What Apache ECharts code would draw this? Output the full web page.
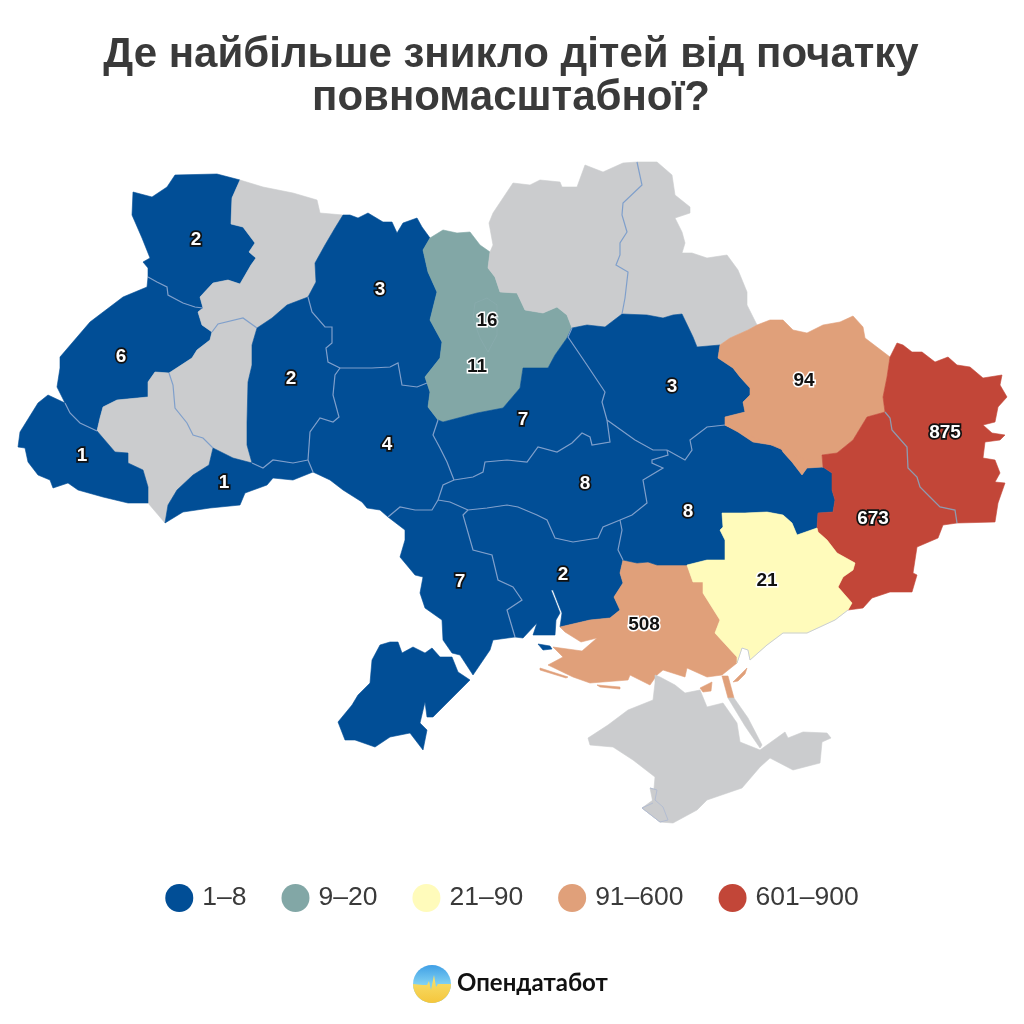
<!DOCTYPE html>
<html>
<head>
<meta charset="utf-8">
<style>html,body{margin:0;padding:0;background:#fff}#chart{width:1024px;height:1024px}</style>
<script src="https://cdn.jsdelivr.net/npm/echarts@6/dist/echarts.min.js"></script>
</head>
<body>
<div id="chart"></div>
<script>
// values per oblast, grey oblasts have no value
var regionNames = ['Волинська','Львівська','Закарпатська','Чернівецька','Хмельницька','Житомирська','Вінницька','Київська','м. Київ','Черкаська','Кіровоградська','Полтавська','Дніпропетровська','Одеська','Миколаївська','Херсонська','Запорізька','Харківська','Донецька','Луганська'];
var regionValues = [2,6,1,1,2,3,4,11,16,7,8,3,8,7,2,508,21,94,673,875];
var greyRegions = ['Рівненська','Тернопільська','Івано-Франківська','Чернігівська','Сумська','Крим','Севастополь'];
var legendLabels = ['1–8','9–20','21–90','91–600','601–900'];
var legendMin = [1,9,21,91,601];
var legendMax = [8,20,90,600,900];
var legendColors = ['#014e96','#82a7a6','#fffbbb','#e0a07a','#c24638'];
var grey = '#cbccce';

// where each number sits on the map
var labelSpots = {
  'Волинська':[196,240],'Львівська':[121,357],'Закарпатська':[82,456],'Чернівецька':[224,483],'Хмельницька':[291,379],
  'Житомирська':[380,290],'Вінницька':[387,445],'Київська':[477,367],'м. Київ':[487,321],'Черкаська':[523,420],
  'Кіровоградська':[585,484],'Полтавська':[672,387],'Дніпропетровська':[688,512],'Одеська':[460,582],'Миколаївська':[563,575],
  'Херсонська':[644,625],'Запорізька':[767,581],'Харківська':[804,381],'Донецька':[873,519],'Луганська':[945,433]
};

// borders, shared between neighbours
var b = {
  volynRivne:[[240,180],[232,198],[231,224],[243,227],[255,243],[249,252],[256,258],[251,265],[240,284],[228,280],[213,283],[200,297],[203,308]],
  volynLviv:[[203,308],[195,307],[183,303],[168,295],[167,287],[157,282],[148,277]],
  volynOut:[[148,277],[148,268],[143,262],[150,258],[142,238],[132,215],[133,192],[152,197],[167,187],[175,175],[217,174],[240,180]],
  lvivOut:[[148,277],[147,287],[123,297],[90,322],[60,357],[60,368],[57,387],[65,403]],
  lvivZak:[[65,403],[70,413],[80,423],[97,431]],
  lvivIf:[[97,431],[100,418],[103,407],[117,400],[148,397],[148,382],[155,372],[169,373]],
  lvivTern:[[169,373],[192,358],[197,350],[210,340],[212,332]],
  lvivRivne:[[212,332],[202,325],[198,312],[203,308]],
  rivneOut:[[240,180],[263,187],[293,193],[317,200],[320,213],[343,215]],
  rivneZhyt:[[343,215],[335,228],[325,245],[315,263],[316,282],[308,297]],
  rivneKhm:[[308,297],[287,305],[272,318],[257,328]],
  rivneTern:[[257,328],[243,318],[218,324],[212,332]],
  ternIf:[[169,373],[173,385],[175,408],[187,423],[193,435],[203,438],[213,448]],
  ternChern:[[213,448],[233,458],[252,463]],
  ternKhm:[[252,463],[247,445],[247,422],[248,382],[252,365],[252,345],[257,328]],
  ifChern:[[213,448],[209,465],[193,475],[177,490],[168,505],[165,523]],
  ifOut:[[165,523],[148,503]],
  ifZak:[[148,503],[148,487],[143,470],[128,463],[128,453],[115,452],[97,431]],
  zakOut:[[65,403],[48,395],[38,403],[20,432],[18,447],[25,448],[28,462],[38,475],[50,480],[53,488],[68,483],[78,490],[103,497],[128,503],[148,503]],
  chernKhm:[[252,463],[263,468],[273,460],[293,463],[308,460]],
  chernVin:[[308,460],[313,472]],
  chernOut:[[313,472],[293,480],[273,478],[267,485],[245,493],[240,505],[210,508],[183,512],[165,523]],
  khmZhyt:[[308,297],[312,312],[325,327],[332,327],[332,343],[326,348],[328,362],[340,368]],
  khmVin:[[340,368],[335,375],[333,395],[339,417],[333,422],[320,418],[310,432],[308,460]],
  zhytOut:[[343,215],[350,215],[358,218],[368,213],[383,222],[392,222],[397,233],[403,223],[417,218],[422,227],[430,238]],
  zhytKyiv:[[430,238],[423,250],[428,272],[437,292],[430,320],[442,342],[440,358],[425,377],[427,383]],
  zhytVin:[[427,383],[417,387],[402,385],[398,363],[390,367],[372,368],[340,368]],
  vinKyiv:[[427,383],[430,392],[428,407],[438,420]],
  vinCher:[[438,420],[433,435],[440,448],[447,462],[454,480]],
  vinKir:[[454,480],[443,485],[438,500]],
  vinOd:[[438,500],[432,510],[415,510],[400,507],[388,517]],
  vinOut:[[388,517],[380,510],[367,508],[362,502],[343,490],[330,480],[313,472]],
  kyivOut:[[430,238],[443,230],[457,233],[470,232],[480,245],[490,252]],
  kyivChern:[[490,252],[488,268],[495,277],[500,292],[517,293],[525,310],[543,313],[557,307],[567,315],[572,328]],
  kyivCher:[[572,328],[567,338],[555,355],[548,368],[523,368],[520,388],[503,408],[477,413],[443,422],[438,420]],
  chernihivOut:[[490,252],[493,245],[489,223],[493,213],[513,183],[530,185],[540,180],[560,182],[562,187],[577,187],[585,165],[603,172],[623,163],[637,162]],
  chernSumy:[[637,162],[642,185],[623,203],[622,215],[627,232],[620,243],[620,255],[616,265],[628,272],[625,298],[622,314]],
  chernPol:[[622,314],[605,327],[587,325],[572,328]],
  sumyOut:[[637,162],[643,162],[657,162],[672,175],[675,195],[690,207],[690,213],[675,218],[682,232],[685,243],[682,253],[692,253],[707,258],[727,255],[738,270],[747,292],[747,305],[757,325]],
  sumyKh:[[757,325],[748,330],[730,338],[720,345]],
  sumyPol:[[720,345],[697,347],[693,337],[682,314],[673,315],[663,318],[647,315],[622,314]],
  polKh:[[720,345],[718,358],[733,368],[740,377],[750,388],[750,395],[743,402],[745,412],[725,417],[725,425]],
  polDn:[[725,425],[707,427],[690,440],[692,450],[685,460],[667,450]],
  polKir:[[667,450],[653,450],[635,440],[607,420]],
  cherPol:[[572,328],[568,337],[587,365],[605,392],[602,402],[607,420]],
  cherKir:[[607,420],[610,442],[592,445],[590,437],[582,433],[572,443],[557,452],[538,447],[527,462],[507,460],[485,462],[483,472],[473,477],[454,480]],
  kirDn:[[667,450],[668,455],[652,460],[652,463],[663,468],[643,480],[647,503],[632,515],[620,520]],
  kirMyk:[[620,520],[603,527],[598,538],[573,542],[555,538],[547,520],[537,515],[518,507],[507,505],[487,508],[468,510]],
  kirOd:[[468,510],[450,502],[438,500]],
  odMyk:[[468,510],[463,515],[473,550],[492,555],[498,580],[513,587],[522,600],[507,610],[515,637]],
  odCoast:[[515,637],[493,640],[490,650],[473,675],[460,655],[452,653],[443,640],[442,620],[425,608],[420,593],[423,577],[415,575],[400,557],[405,540],[405,530],[388,517]],
  mykDn:[[620,520],[622,530],[618,550],[623,560]],
  mykKh:[[623,560],[620,573],[623,583],[614,597],[620,610],[610,618],[590,620],[560,627]],
  mykCoast:[[560,627],[562,613],[558,603],[553,590],[551,590],[555,600],[560,613],[556,620],[555,635],[533,635],[537,623],[523,638],[515,637]],
  khDn:[[623,560],[637,563],[648,562],[657,565],[687,565]],
  khZap:[[687,565],[693,582],[703,582],[703,593],[720,620],[715,633],[737,657],[737,663]],
  khOut:[[737,663],[722,675],[707,677],[687,668],[685,677],[663,670],[657,675],[650,685],[630,675],[628,680],[590,683],[573,677],[548,665],[563,657],[553,647],[582,651],[597,638],[581,642],[565,632],[560,627]],
  dnZap:[[817,528],[797,535],[792,523],[783,515],[767,512],[745,513],[722,513],[723,527],[720,530],[725,540],[725,560],[707,560],[687,565]],
  dnDon:[[817,528],[818,513],[833,512],[835,500],[832,490],[832,473],[823,467]],
  dnKh:[[823,467],[807,468],[802,475],[792,462],[783,452],[778,442],[772,445],[753,442],[738,432],[725,425]],
  khNorth:[[757,325],[770,320],[783,320],[793,330],[807,333],[823,325],[840,322],[853,316],[863,327],[865,338],[890,357]],
  khLuh:[[890,357],[887,377],[883,397],[885,412]],
  khDon:[[885,412],[867,417],[853,440],[837,453],[822,455],[823,467]],
  luhOut:[[890,357],[897,343],[903,345],[912,352],[922,352],[935,362],[948,357],[957,365],[970,367],[983,378],[1002,375],[1000,385],[1007,397],[998,407],[995,422],[983,425],[992,433],[1005,435],[1000,440],[985,442],[983,458],[995,460],[1000,473],[995,482],[1005,483],[998,503],[995,522],[957,523]],
  luhDon:[[957,523],[955,510],[940,507],[930,497],[920,487],[917,477],[908,468],[907,447],[892,430],[890,418],[885,412]],
  donOut:[[957,523],[943,525],[938,538],[917,547],[913,573],[917,575],[912,592],[890,592],[872,598],[863,608],[848,610]],
  donZap:[[848,610],[852,603],[838,587],[843,577],[853,570],[855,563],[837,553],[827,540],[818,532],[817,528]],
  zapCoast:[[737,663],[742,648],[748,650],[750,660],[767,645],[783,633],[807,633],[835,620],[848,610]]
};
var kyivCity = [[475,303],[487,298],[497,305],[497,335],[488,352],[480,338],[473,318]];
var sevastopol = [[650,788],[657,790],[655,800],[663,807],[668,820],[660,822],[642,808],[653,803]];
var crimea = [[655,675],[660,677],[675,685],[685,693],[700,690],[707,707],[723,703],[737,723],[740,742],[760,750],[785,732],[788,738],[803,732],[827,733],[831,738],[822,742],[820,763],[793,770],[770,758],[760,767],[742,788],[707,800],[697,810],[673,823],[660,822],[642,808],[653,800],[655,777],[633,760],[613,747],[590,745],[588,738],[608,725],[628,710],[653,700],[655,683]];
var arabat = [[728,698],[734,698],[748,718],[762,745],[760,748],[745,726]];
var bessarabia = [[390,642],[398,642],[402,653],[413,647],[425,653],[432,648],[440,657],[452,657],[458,672],[470,680],[453,697],[433,717],[427,717],[425,702],[420,723],[427,730],[423,750],[410,733],[390,737],[375,747],[355,740],[345,740],[338,722],[352,705],[358,695],[370,683],[372,660],[380,645]];
var kinburn = [[538,644],[550,646],[552,649],[543,650]];
var khIslands = [
  [[540,668],[568,677],[566,678],[540,670]],
  [[597,685],[620,687],[620,689],[600,687]],
  [[700,688],[712,682],[711,691],[703,692]],
  [[733,682],[743,672],[747,668],[745,674],[738,681]],
  [[722,676],[728,676],[734,698],[728,698]]
];

function rev(a){ return a.slice().reverse(); }
function ring(){
  var out = [];
  for (var i = 0; i < arguments.length; i++) out = out.concat(arguments[i]);
  return out;
}
var rings = {
  'Волинська':[ring(b.volynRivne,b.volynLviv,b.volynOut)],
  'Львівська':[ring(b.volynLviv,b.lvivOut,b.lvivZak,b.lvivIf,b.lvivTern,b.lvivRivne)],
  'Рівненська':[ring(b.rivneOut,b.rivneZhyt,b.rivneKhm,b.rivneTern,b.lvivRivne,rev(b.volynRivne))],
  'Тернопільська':[ring(rev(b.lvivTern),b.ternIf,b.ternChern,b.ternKhm,b.rivneTern)],
  'Івано-Франківська':[ring(b.lvivIf,b.ternIf,b.ifChern,b.ifOut,b.ifZak)],
  'Закарпатська':[ring(b.zakOut,b.ifZak,rev(b.lvivZak))],
  'Чернівецька':[ring(b.ternChern,b.chernKhm,b.chernVin,b.chernOut,rev(b.ifChern))],
  'Хмельницька':[ring(rev(b.rivneKhm),b.khmZhyt,b.khmVin,rev(b.chernKhm),b.ternKhm)],
  'Житомирська':[ring(rev(b.rivneZhyt),b.zhytOut,b.zhytKyiv,b.zhytVin,rev(b.khmZhyt))],
  'Вінницька':[ring(rev(b.zhytVin),b.vinKyiv,b.vinCher,b.vinKir,b.vinOd,b.vinOut,rev(b.chernVin),rev(b.khmVin))],
  'Київська':[ring(b.kyivOut,b.kyivChern,b.kyivCher,rev(b.vinKyiv),rev(b.zhytKyiv))],
  'Чернігівська':[ring(b.chernihivOut,b.chernSumy,b.chernPol,rev(b.kyivChern))],
  'Сумська':[ring(b.sumyOut,b.sumyKh,b.sumyPol,rev(b.chernSumy))],
  'Полтавська':[ring(rev(b.chernPol),rev(b.sumyPol),b.polKh,b.polDn,b.polKir,rev(b.cherPol))],
  'Черкаська':[ring(rev(b.kyivCher),b.cherPol,b.cherKir,rev(b.vinCher))],
  'Кіровоградська':[ring(rev(b.cherKir),rev(b.polKir),b.kirDn,b.kirMyk,b.kirOd,rev(b.vinKir))],
  'Одеська':[ring(rev(b.vinOd),rev(b.kirOd),b.odMyk,b.odCoast),bessarabia],
  'Миколаївська':[ring(rev(b.kirMyk),b.mykDn,b.mykKh,b.mykCoast,rev(b.odMyk)),kinburn],
  'Херсонська':[ring(rev(b.mykKh),b.khDn,b.khZap,b.khOut)].concat(khIslands),
  'Дніпропетровська':[ring(b.polDn,b.kirDn,b.mykDn,b.khDn,rev(b.dnZap),b.dnDon,b.dnKh)],
  'Харківська':[ring(rev(b.sumyKh),b.khNorth,b.khLuh,b.khDon,rev(b.dnKh),rev(b.polKh))],
  'Луганська':[ring(b.luhOut,b.luhDon,rev(b.khLuh))],
  'Донецька':[ring(rev(b.luhDon),b.donOut,b.donZap,b.dnDon,rev(b.khDon))],
  'Запорізька':[ring(b.dnZap,b.khZap,b.zapCoast,b.donZap)],
  'Крим':[crimea,arabat],
  'м. Київ':[kyivCity],
  'Севастополь':[sevastopol]
};

function toGeo(p){ return [p[0], -p[1]]; }
var features = Object.keys(rings).map(function(name){
  var cp = labelSpots[name] ? toGeo(labelSpots[name]) : undefined;
  return {
    type:'Feature',
    properties:{name:name, cp:cp},
    geometry:{type:'MultiPolygon', coordinates:rings[name].map(function(r){ return [r.map(toGeo)]; })}
  };
});
echarts.registerMap('ukraine', {type:'FeatureCollection', features:features});

// only borders between regions of one colour are visible in the original
var lineEdges = ['volynLviv','lvivZak','cherKir','vinCher','vinKir','vinOd','zhytVin','khmVin','khmZhyt','chernKhm','chernVin','cherPol','polKir','polDn','kirDn','kirMyk','kirOd','odMyk','mykDn','rivneTern','ternIf','chernSumy'];
var edgeData = lineEdges.map(function(k){
  return {coords:b[k].map(toGeo), lineStyle:{color:'#7f9fcb', width:1.2, opacity:1}};
});
edgeData.push({coords:b.luhDon.map(toGeo), lineStyle:{color:'#8e9bb0', width:1.3, opacity:1}});
edgeData.push({coords:b.zapCoast.map(toGeo), lineStyle:{color:'#c9ced6', width:1, opacity:1}});
edgeData.push({coords:kyivCity.concat([kyivCity[0]]).map(toGeo), lineStyle:{color:'#8dadb0', width:0.6, opacity:1}});
edgeData.push({coords:sevastopol.map(toGeo), lineStyle:{color:'#b3bdd2', width:1, opacity:1}});

function colorOf(v){
  for (var i = 0; i < legendMin.length; i++) if (v >= legendMin[i] && v <= legendMax[i]) return i;
  return 0;
}
var mapData = regionNames.map(function(name, i){
  var piece = colorOf(regionValues[i]);
  var light = piece >= 1 && piece <= 3;
  return {
    name:name,
    value:regionValues[i],
    itemStyle:{borderColor:legendColors[piece], borderWidth:0.6},
    label:{
      show:true,
      formatter:'{c}',
      color:light ? '#111' : '#fff',
      textBorderColor:light ? '#fff' : '#111',
      textBorderWidth:light ? 3 : 3.5
    }
  };
}).concat(greyRegions.map(function(name){
  return {name:name, value:null, label:{show:false}};
}));

var box = {left:18, top:162, width:989, height:661};

// logo: lower half of the circle with a pulse along its top
var logoX = 432, logoY = 984, logoR = 19;
var logoLow = [[logoX-logoR,logoY],[logoX-9,logoY+1],[logoX-5,logoY+1],[logoX-3,logoY-3],[logoX-1,logoY+6],[logoX+2,logoY-9],[logoX+4,logoY+3],[logoX+6,logoY],[logoX+logoR,logoY]];
for (var d = 10; d < 180; d += 10) {
  logoLow.push([logoX+logoR*Math.cos(d*Math.PI/180), logoY+logoR*Math.sin(d*Math.PI/180)]);
}

var chart = echarts.init(document.getElementById('chart'));
chart.setOption({
  backgroundColor:'#fff',
  animation:false,
  title:{
    text:'Де найбільше зникло дітей від початку\nповномасштабної?',
    left:506,
    top:29,
    textAlign:'center',
    textStyle:{fontFamily:'Liberation Sans', fontSize:42, fontWeight:'bold', color:'#3a3a3a', lineHeight:43}
  },
  visualMap:{
    type:'piecewise',
    orient:'horizontal',
    left:'center',
    top:884,
    seriesIndex:0,
    selectedMode:false,
    hoverLink:false,
    itemSymbol:'circle',
    itemWidth:28,
    itemHeight:28,
    itemGap:35,
    textGap:9,
    padding:0,
    textStyle:{fontFamily:'Liberation Sans', fontSize:26.5, color:'#3a3a3a'},
    pieces:legendLabels.map(function(l, i){
      return {min:legendMin[i], max:legendMax[i], label:l, color:legendColors[i]};
    })
  },
  geo:{
    map:'ukraine',
    left:box.left, top:box.top, width:box.width, height:box.height,
    aspectScale:1,
    silent:true,
    itemStyle:{areaColor:'transparent', borderWidth:0},
    label:{show:false},
    emphasis:{disabled:true}
  },
  series:[{
    type:'map',
    map:'ukraine',
    left:box.left, top:box.top, width:box.width, height:box.height,
    aspectScale:1,
    selectedMode:false,
    silent:true,
    showLegendSymbol:false,
    itemStyle:{areaColor:grey, borderColor:grey, borderWidth:0.6},
    label:{show:false, fontFamily:'Liberation Sans', fontSize:19, fontWeight:'bold'},
    emphasis:{disabled:true},
    data:mapData
  },{
    type:'lines',
    coordinateSystem:'geo',
    polyline:true,
    silent:true,
    z:3,
    data:edgeData
  }],
  graphic:[
    {type:'circle', shape:{cx:logoX, cy:logoY, r:logoR}, style:{fill:new echarts.graphic.LinearGradient(0,0,0,0.5,[{offset:0,color:'#3f9fe6'},{offset:1,color:'#7fd0f2'}])}},
    {type:'polygon', shape:{points:logoLow}, style:{fill:new echarts.graphic.LinearGradient(0,0,0,1,[{offset:0,color:'#f7e272'},{offset:1,color:'#f5c63c'}])}},
    {type:'text', style:{x:457, y:983, text:'Опендатабот', verticalAlign:'middle', fontFamily:'Lato', fontSize:24, fontWeight:'bold', fill:'#111'}}
  ]
});
</script>
</body>
</html>
